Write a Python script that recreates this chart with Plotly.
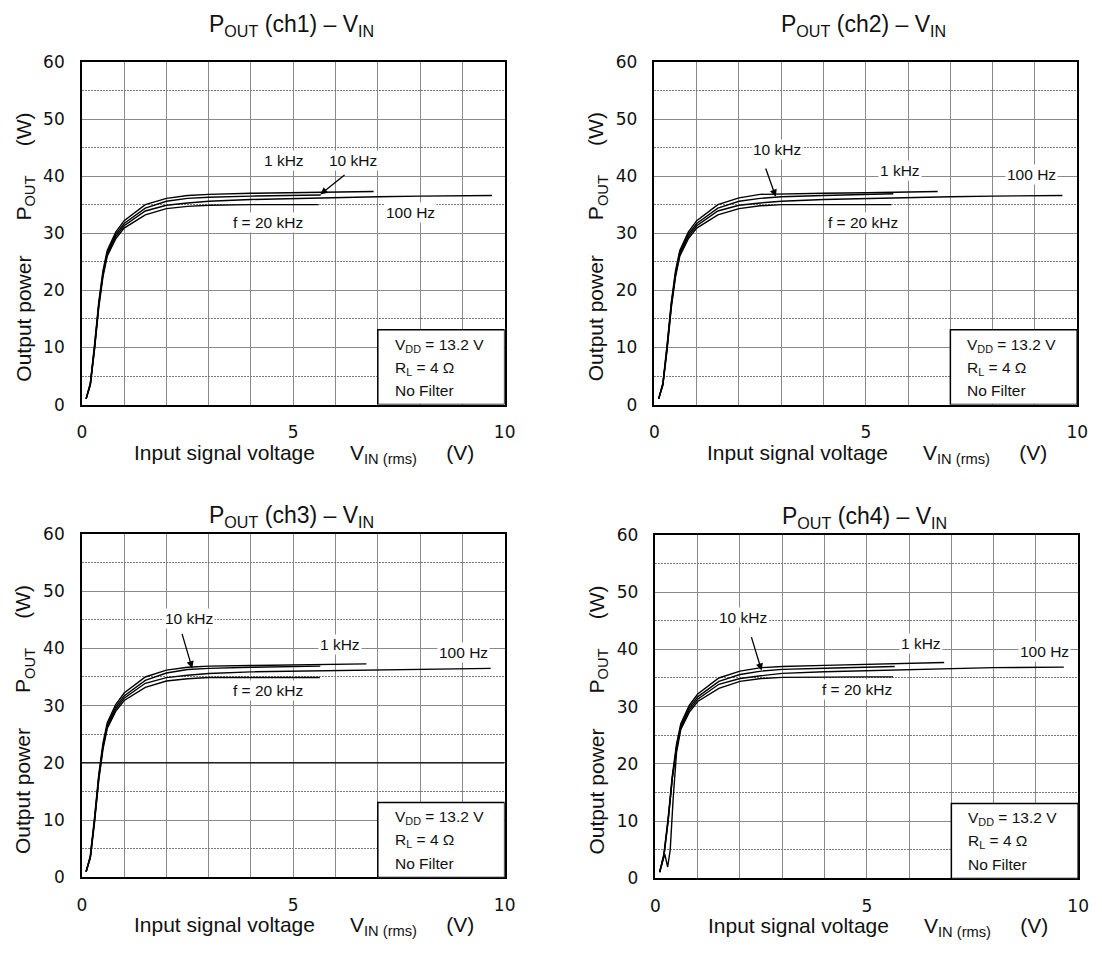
import plotly.graph_objects as go

# ---------------- data ----------------
# ch1
ch1_1k_x = [0.1, 0.2, 0.3, 0.4, 0.5, 0.6, 0.8, 1.0, 1.5, 2.0, 2.5, 3.0, 4.0, 5.0, 6.0, 6.9]
ch1_1k_y = [1.0, 3.8, 10.5, 18.0, 23.5, 27.0, 30.2, 32.2, 35.0, 36.1, 36.6, 36.8, 37.0, 37.1, 37.2, 37.3]
ch1_10k_x = [0.1, 0.2, 0.3, 0.4, 0.5, 0.6, 0.8, 1.0, 1.5, 2.0, 2.5, 3.0, 4.0, 5.0, 5.65]
ch1_10k_y = [1.0, 3.6, 10.0, 17.5, 23.0, 26.6, 29.8, 31.7, 34.4, 35.6, 36.1, 36.3, 36.5, 36.6, 36.7]
ch1_100_x = [0.1, 0.2, 0.3, 0.4, 0.5, 0.6, 0.8, 1.0, 1.5, 2.0, 2.5, 3.0, 4.0, 5.0, 6.0, 7.0, 8.0, 9.7]
ch1_100_y = [1.0, 3.5, 10.0, 17.5, 22.8, 26.3, 29.4, 31.3, 33.9, 34.9, 35.3, 35.6, 35.9, 36.1, 36.3, 36.4, 36.5, 36.6]
ch1_20k_x = [0.1, 0.2, 0.3, 0.4, 0.5, 0.6, 0.8, 1.0, 1.5, 2.0, 2.5, 3.0, 4.0, 5.0, 5.6]
ch1_20k_y = [1.0, 3.4, 9.6, 17.0, 22.4, 26.0, 29.0, 30.9, 33.2, 34.3, 34.7, 34.9, 35.0, 35.0, 35.0]

# ch2
ch2_1k_x = [0.1, 0.2, 0.3, 0.4, 0.5, 0.6, 0.8, 1.0, 1.5, 2.0, 2.5, 3.0, 4.0, 5.0, 6.0, 6.7]
ch2_1k_y = [1.0, 3.8, 10.5, 18.0, 23.5, 27.0, 30.2, 32.2, 35.0, 36.2, 36.8, 36.9, 37.0, 37.1, 37.2, 37.3]
ch2_10k_x = [0.1, 0.2, 0.3, 0.4, 0.5, 0.6, 0.8, 1.0, 1.5, 2.0, 2.5, 3.0, 4.0, 5.0, 5.65]
ch2_10k_y = [1.0, 3.6, 10.0, 17.5, 23.0, 26.6, 29.8, 31.7, 34.4, 35.6, 36.1, 36.4, 36.6, 36.8, 36.9]
ch2_100_x = [0.1, 0.2, 0.3, 0.4, 0.5, 0.6, 0.8, 1.0, 1.5, 2.0, 2.5, 3.0, 4.0, 5.0, 6.0, 7.0, 8.0, 9.65]
ch2_100_y = [1.0, 3.5, 10.0, 17.5, 22.8, 26.3, 29.4, 31.3, 33.9, 34.9, 35.3, 35.6, 35.9, 36.1, 36.3, 36.4, 36.5, 36.6]
ch2_20k_x = [0.1, 0.2, 0.3, 0.4, 0.5, 0.6, 0.8, 1.0, 1.5, 2.0, 2.5, 3.0, 4.0, 5.0, 5.6]
ch2_20k_y = [1.0, 3.4, 9.6, 17.0, 22.4, 26.0, 29.0, 30.9, 33.2, 34.3, 34.8, 35.0, 35.0, 35.0, 35.0]

# ch3
ch3_1k_x = [0.1, 0.2, 0.3, 0.4, 0.5, 0.6, 0.8, 1.0, 1.5, 2.0, 2.5, 3.0, 4.0, 5.0, 6.0, 6.73]
ch3_1k_y = [1.0, 3.8, 10.5, 18.0, 23.5, 27.0, 30.2, 32.2, 35.0, 36.2, 36.7, 36.9, 37.0, 37.1, 37.2, 37.3]
ch3_10k_x = [0.1, 0.2, 0.3, 0.4, 0.5, 0.6, 0.8, 1.0, 1.5, 2.0, 2.5, 3.0, 4.0, 5.0, 5.64]
ch3_10k_y = [1.0, 3.6, 10.0, 17.5, 23.0, 26.6, 29.8, 31.7, 34.4, 35.7, 36.3, 36.5, 36.7, 36.8, 36.9]
ch3_100_x = [0.1, 0.2, 0.3, 0.4, 0.5, 0.6, 0.8, 1.0, 1.5, 2.0, 2.5, 3.0, 4.0, 5.0, 6.0, 7.0, 8.0, 9.67]
ch3_100_y = [1.0, 3.5, 10.0, 17.5, 22.8, 26.3, 29.4, 31.3, 33.9, 34.9, 35.3, 35.6, 35.9, 36.0, 36.2, 36.3, 36.4, 36.5]
ch3_20k_x = [0.1, 0.2, 0.3, 0.4, 0.5, 0.6, 0.8, 1.0, 1.5, 2.0, 2.5, 3.0, 4.0, 5.0, 5.63]
ch3_20k_y = [1.0, 3.4, 9.6, 17.0, 22.4, 26.0, 29.0, 30.9, 33.2, 34.3, 34.7, 34.9, 34.9, 34.9, 34.9]

# ch4
ch4_1k_x = [0.1, 0.2, 0.3, 0.4, 0.5, 0.6, 0.8, 1.0, 1.5, 2.0, 2.5, 3.0, 4.0, 5.0, 6.0, 6.83]
ch4_1k_y = [1.1, 4.3, 10.5, 18.0, 23.5, 27.0, 30.2, 32.2, 35.0, 36.2, 36.8, 37.0, 37.2, 37.4, 37.5, 37.7]
ch4_10k_x = [0.1, 0.2, 0.3, 0.4, 0.5, 0.6, 0.8, 1.0, 1.5, 2.0, 2.5, 3.0, 4.0, 5.0, 5.66]
ch4_10k_y = [1.1, 4.0, 10.0, 17.5, 23.0, 26.6, 29.8, 31.7, 34.4, 35.6, 36.2, 36.5, 36.7, 36.9, 37.0]
ch4_100_x = [0.1, 0.2, 0.3, 0.4, 0.5, 0.6, 0.8, 1.0, 1.5, 2.0, 2.5, 3.0, 4.0, 5.0, 6.0, 7.0, 8.0, 9.66]
ch4_100_y = [1.1, 3.8, 10.0, 17.5, 22.8, 26.3, 29.4, 31.3, 33.9, 34.9, 35.4, 35.8, 36.1, 36.3, 36.5, 36.6, 36.8, 36.9]
ch4_20k_x = [0.1, 0.22, 0.29, 0.35, 0.42, 0.5, 0.6, 0.8, 1.0, 1.5, 2.0, 2.5, 3.0, 4.0, 5.0, 5.62]
ch4_20k_y = [1.1, 4.3, 2.0, 5.0, 14.0, 22.0, 26.0, 29.0, 30.9, 33.2, 34.4, 34.9, 35.1, 35.2, 35.2, 35.2]

x_tick_vals = [0, 5, 10]
y_tick_vals = [0, 10, 20, 30, 40, 50, 60]

channels = ["ch1", "ch2", "ch3", "ch4"]
series = {
    "ch1": [(ch1_1k_x, ch1_1k_y), (ch1_10k_x, ch1_10k_y), (ch1_100_x, ch1_100_y), (ch1_20k_x, ch1_20k_y)],
    "ch2": [(ch2_1k_x, ch2_1k_y), (ch2_10k_x, ch2_10k_y), (ch2_100_x, ch2_100_y), (ch2_20k_x, ch2_20k_y)],
    "ch3": [(ch3_1k_x, ch3_1k_y), (ch3_10k_x, ch3_10k_y), (ch3_100_x, ch3_100_y), (ch3_20k_x, ch3_20k_y)],
    "ch4": [(ch4_1k_x, ch4_1k_y), (ch4_10k_x, ch4_10k_y), (ch4_100_x, ch4_100_y), (ch4_20k_x, ch4_20k_y)],
}

# ---------------- layout geometry ----------------
W, H = 1102, 956
ARIAL = "Liberation Sans, Arial, sans-serif"
TICKFONT = dict(family="DejaVu Sans, Verdana, sans-serif", size=17, color="#111")

# pixel boxes of each plot area: (left, right, top, bottom)
boxes = [(78, 507, 53, 403), (659, 1088, 53, 403), (78, 507, 535, 886), (660, 1089, 536, 887)]

fig = go.Figure()
layout = dict(
    width=W, height=H, margin=dict(l=0, r=0, t=0, b=0),
    paper_bgcolor="white", plot_bgcolor="white", showlegend=False,
    font=dict(family=ARIAL, color="#111"),
)
annotations = []
shapes = []

# text positions (data coords) per panel
label_pos = {
    "ch1": dict(k1=(4.77, 42.7), k10=(6.42, 42.7), tail=(6.25, 40.4), tip=(5.64, 36.8), h100=(7.78, 33.6), k20=(4.40, 31.8)),
    "ch2": dict(k1=(5.80, 40.9), k10=(2.91, 44.7), tail=(2.62, 41.6), tip=(2.87, 36.4), h100=(8.91, 40.2), k20=(4.93, 31.8)),
    "ch3": dict(k1=(6.11, 40.7), k10=(2.53, 45.2), tail=(2.36, 42.8), tip=(2.61, 36.5), h100=(9.03, 39.3), k20=(4.40, 32.6)),
    "ch4": dict(k1=(6.28, 41.1), k10=(2.08, 45.6), tail=(2.26, 42.4), tip=(2.51, 36.3), h100=(9.20, 39.7), k20=(4.76, 33.0)),
}

sp = "\u00a0"
for i, ch in enumerate(channels):
    n = "" if i == 0 else str(i + 1)
    xa, ya = "x" + n, "y" + n
    l, r, t, b = boxes[i]
    layout["xaxis" + n] = dict(
        domain=[l / W, r / W], anchor=ya, range=[0, 10],
        tickmode="array", tickvals=x_tick_vals, tickfont=TICKFONT,
        ticks="outside", ticklen=11, tickcolor="rgba(0,0,0,0)",
        showgrid=True, gridcolor="#8a8a8a", gridwidth=1,
        minor=dict(tick0=0, dtick=1, showgrid=True, gridcolor="#8a8a8a", gridwidth=1),
        showline=True, linecolor="black", linewidth=1.5, mirror=True,
        zeroline=False, fixedrange=True,
    )
    layout["yaxis" + n] = dict(
        domain=[1 - b / H, 1 - t / H], anchor=xa, range=[0, 60],
        tickmode="array", tickvals=y_tick_vals, tickfont=TICKFONT,
        ticks="outside", ticklen=12, tickcolor="rgba(0,0,0,0)",
        showgrid=True, gridcolor="#8a8a8a", gridwidth=1,
        minor=dict(tick0=0, dtick=5, showgrid=True, gridcolor="#7a7a7a", gridwidth=1, griddash="2px,1px"),
        showline=True, linecolor="black", linewidth=1.5, mirror=True,
        zeroline=False, fixedrange=True,
    )
    for sx, sy in series[ch]:
        fig.add_trace(go.Scatter(x=sx, y=sy, mode="lines", xaxis=xa, yaxis=ya,
                                 line=dict(color="black", width=1.4), hoverinfo="skip"))

    # title
    cx = (l + r) / 2 / W
    ty = (t - 37) if i < 2 else (t - 18)
    annotations.append(dict(text=f"P<sub>OUT</sub> (ch{i+1}) – V<sub>IN</sub>", xref="paper", yref="paper",
                            x=cx - 0.002, y=1 - ty / H, showarrow=False, xanchor="center", yanchor="middle",
                            font=dict(family=ARIAL, size=23, color="#111")))
    # axis titles
    annotations.append(dict(text=f"Output power{sp*6}P<sub>OUT</sub>{sp*5}(W)", xref="paper", yref="paper",
                            x=(l - 58) / W, y=1 - ((t + b) / 2 + 14) / H, textangle=-90, showarrow=False,
                            xanchor="center", yanchor="middle", font=dict(family=ARIAL, size=21, color="#111")))
    annotations.append(dict(text=f"Input signal voltage{sp*6}V<sub>IN (rms)</sub>{sp*5}(V)", xref="paper", yref="paper",
                            x=((l + r) / 2 + 11) / W, y=1 - (b + 50) / H, showarrow=False,
                            xanchor="center", yanchor="middle", font=dict(family=ARIAL, size=21, color="#111")))

    lp = label_pos[ch]
    lab_font = dict(family=ARIAL, size=15.5, color="#111")
    for key, txt in (("k1", "1 kHz"), ("k10", "10 kHz"), ("h100", "100 Hz"), ("k20", "f = 20 kHz")):
        annotations.append(dict(text=txt, xref=xa, yref=ya, x=lp[key][0], y=lp[key][1], showarrow=False,
                                bgcolor="white", borderpad=1, font=lab_font))
    annotations.append(dict(text="", xref=xa, yref=ya, x=lp["tip"][0], y=lp["tip"][1],
                            axref=xa, ayref=ya, ax=lp["tail"][0], ay=lp["tail"][1],
                            showarrow=True, arrowhead=2, arrowsize=1.1, arrowwidth=1.3, arrowcolor="black"))

    # condition box
    shapes.append(dict(type="rect", xref=xa, yref=ya, x0=7.0, x1=10.0, y0=0, y1=13.1,
                       fillcolor="white", line=dict(color="black", width=1.5), layer="above"))
    for yy, txt in ((10.4, "V<sub>DD</sub> = 13.2 V"), (6.4, "R<sub>L</sub> = 4 Ω"), (2.4, "No Filter")):
        annotations.append(dict(text=txt, xref=xa, yref=ya, x=7.35, y=yy, showarrow=False,
                                xanchor="left", yanchor="middle", font=lab_font))

# black 20 W line in ch3 panel
shapes.append(dict(type="line", xref="x3", yref="y3", x0=0, x1=10, y0=20, y1=20,
                   line=dict(color="black", width=1.2), layer="above"))

layout["annotations"] = annotations
layout["shapes"] = shapes
fig.update_layout(**layout)
fig.write_html("out.html")
